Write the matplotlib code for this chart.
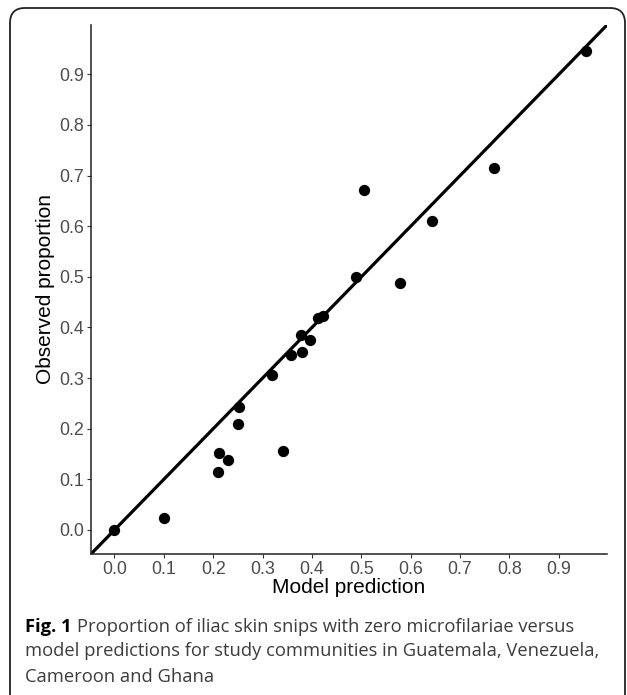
import matplotlib.pyplot as plt
from matplotlib.patches import FancyBboxPatch

# model prediction vs observed proportion, one point per community
predicted = [0.0, 0.10, 0.211, 0.21, 0.23, 0.251, 0.253, 0.341, 0.32, 0.358, 0.377,
             0.38, 0.396, 0.412, 0.422, 0.49, 0.505, 0.579, 0.644, 0.769, 0.955]
observed = [0.0, 0.023, 0.152, 0.115, 0.139, 0.21, 0.243, 0.155, 0.307, 0.345, 0.385,
            0.352, 0.375, 0.418, 0.423, 0.499, 0.671, 0.488, 0.611, 0.716, 0.947]
ticks = [0.0, 0.1, 0.2, 0.3, 0.4, 0.5, 0.6, 0.7, 0.8, 0.9]

caption_bold = "Fig. 1"
caption_lines = ["Proportion of iliac skin snips with zero microfilariae versus",
                 "model predictions for study communities in Guatemala, Venezuela,",
                 "Cameroon and Ghana"]

fig = plt.figure(figsize=(6.27, 6.95), dpi=100)
ax = fig.add_axes([91 / 627, 1 - 554 / 695, (607 - 91) / 627, (554 - 25) / 695])

ax.axline((0, 0), slope=1, color='k', lw=2.3, zorder=2)
ax.scatter(predicted, observed, s=66, color='k', zorder=3, linewidths=0)

ax.set_xlim(-0.0475, 0.9975)
ax.set_ylim(-0.0475, 0.9975)
ax.set_xticks(ticks)
ax.set_yticks(ticks)
ax.set_xticklabels([f"{t:.1f}" for t in ticks])
ax.set_yticklabels([f"{t:.1f}" for t in ticks])

for side in ['top', 'right']:
    ax.spines[side].set_visible(False)
for side in ['left', 'bottom']:
    ax.spines[side].set_linewidth(1.1)
    ax.spines[side].set_color('#222222')

ax.tick_params(direction='out', length=3, width=0.8, color='#333333', pad=2,
               labelsize=12.9, labelcolor='#4D4D4D')
for lab in ax.get_xticklabels() + ax.get_yticklabels():
    lab.set_family('Liberation Sans')

ax.set_xlabel("Model prediction", fontsize=15, family='Liberation Sans', labelpad=0)
ax.set_ylabel("Observed proportion", fontsize=15, family='Liberation Sans', labelpad=3)

# caption
y0 = 1 - 627 / 695
fig.text(25 / 627, y0, caption_bold, fontsize=13.2, fontweight='bold',
         family='Open Sans', color='k', va='center')
fig.text(77 / 627, y0, caption_lines[0], fontsize=13.2, family='Open Sans',
         color='#3c3c3c', va='center')
fig.text(25 / 627, 1 - 651 / 695, caption_lines[1], fontsize=13.2, family='Open Sans',
         color='#3c3c3c', va='center')
fig.text(25 / 627, 1 - 677 / 695, caption_lines[2], fontsize=13.2, family='Open Sans',
         color='#3c3c3c', va='center')

# rounded frame around the figure
frame = FancyBboxPatch((0.10, -0.3), 6.15, 6.87 + 0.3,
                       boxstyle="round,pad=0,rounding_size=0.15",
                       transform=fig.dpi_scale_trans, fill=False,
                       edgecolor='#222222', lw=1.3)
fig.patches.append(frame)

fig.savefig("out.png", dpi=100)
